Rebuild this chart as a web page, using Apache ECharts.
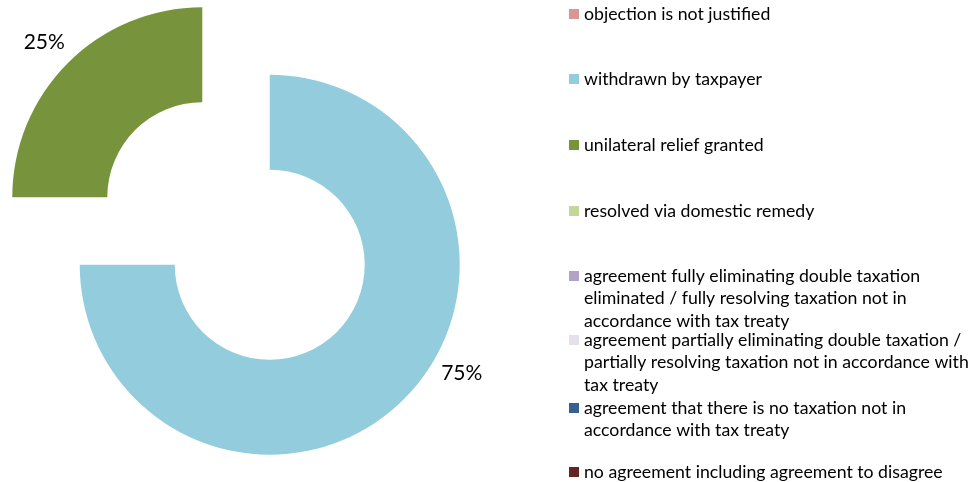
<!DOCTYPE html>
<html>
<head>
<meta charset="utf-8">
<script src="https://cdn.jsdelivr.net/npm/echarts@6/dist/echarts.min.js"></script>
<style>
html,body{margin:0;padding:0;background:#fff;}
#chart{width:972px;height:482px;}
</style>
</head>
<body>
<div id="chart"></div>
<script>
const categories = [
  'objection is not justified',
  'withdrawn by taxpayer',
  'unilateral relief granted',
  'resolved via domestic remedy',
  'agreement fully eliminating double taxation eliminated / fully resolving taxation not in accordance with tax treaty',
  'agreement partially eliminating double taxation / partially resolving taxation not in accordance with tax treaty',
  'agreement that there is no taxation not in accordance with tax treaty',
  'no agreement including agreement to disagree'
];
const legendLines = [
  ['objection is not justified'],
  ['withdrawn by taxpayer'],
  ['unilateral relief granted'],
  ['resolved via domestic remedy'],
  ['agreement fully eliminating double taxation', 'eliminated / fully resolving taxation not in', 'accordance with tax treaty'],
  ['agreement partially eliminating double taxation /', 'partially resolving taxation not in accordance with', 'tax treaty'],
  ['agreement that there is no taxation not in', 'accordance with tax treaty'],
  ['no agreement including agreement to disagree']
];
const values = [0, 75, 25, 0, 0, 0, 0, 0];
const colors = ['#d99694', '#93cddd', '#77933c', '#c3d69b', '#b3a2c7', '#e6e0ec', '#376092', '#632523'];

// layout
const legendIconCenters = [14, 79, 145, 211, 276, 340, 408, 472];
const labelShift = {1: [25, -33], 2: [9, -14]};
const LH = 22.7;
const FONT = 'Lato';

const chart = echarts.init(document.getElementById('chart'), null, {renderer: 'canvas'});

const legends = categories.map((name, i) => {
  const n = legendLines[i].length;
  const boxH = (2 * n - 1) * LH;
  const pad = new Array(n - 1).fill(' ');
  return {
    orient: 'vertical',
    left: 569,
    top: legendIconCenters[i] - boxH / 2,
    padding: 0,
    itemWidth: 10,
    itemHeight: 10,
    icon: 'rect',
    selectedMode: false,
    data: [name],
    formatter: () => pad.concat(legendLines[i]).join('\n'),
    textStyle: {
      fontFamily: FONT,
      fontSize: 17.7,
      color: '#000',
      lineHeight: LH
    }
  };
});

chart.setOption({
  animation: false,
  backgroundColor: '#fff',
  legend: legends,
  series: [{
    type: 'pie',
    center: [236, 231],
    radius: [95, 190],
    startAngle: 90,
    clockwise: true,
    selectedMode: 'multiple',
    selectedOffset: 47.7,
    avoidLabelOverlap: false,
    emphasis: {disabled: true, scale: false},
    itemStyle: {borderWidth: 0},
    label: {
      show: true,
      position: 'outside',
      fontFamily: FONT,
      fontSize: 21,
      color: '#000',
      formatter: p => p.value > 0 ? Math.round(p.percent) + '%' : ''
    },
    labelLine: {show: false, length: 10, length2: 0},
    labelLayout: p => {
      const s = labelShift[p.dataIndex];
      return s ? {dx: s[0], dy: s[1]} : {};
    },
    data: categories.map((name, i) => ({
      name: name,
      value: values[i],
      selected: values[i] > 0,
      itemStyle: {color: colors[i]},
      label: {show: values[i] > 0}
    }))
  }]
});
</script>
</body>
</html>
